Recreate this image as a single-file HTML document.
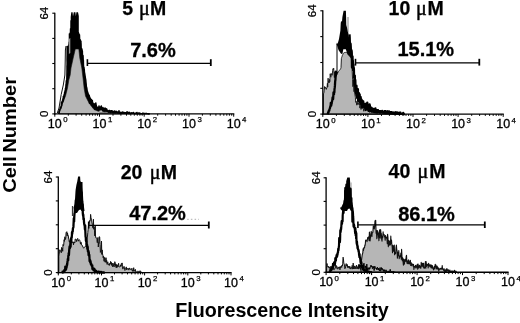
<!DOCTYPE html>
<html><head><meta charset="utf-8"><title>Flow cytometry histograms</title>
<style>html,body{margin:0;padding:0;background:#fff;width:520px;height:323px;overflow:hidden}svg{display:block}</style>
</head><body>
<svg width="520" height="323" viewBox="0 0 520 323">
<style>
text{font-family:"Liberation Sans",Arial,sans-serif;fill:#000}
.tl{font-size:12.5px;stroke:#000;stroke-width:0.3}
.yl{font-size:11.5px;stroke:#000;stroke-width:0.25}
.sup{font-size:7.8px;stroke:#000;stroke-width:0.25}
.bt{font-size:19.5px;font-weight:bold;stroke:#000;stroke-width:0.25}
.mu{font-size:20px;font-family:"Liberation Serif",serif;stroke:#000;stroke-width:0.45}
.pc{font-size:20px;font-weight:bold;stroke:#000;stroke-width:0.3}
.ax{font-size:20px;font-weight:bold}
</style>
<rect width="520" height="323" fill="#fff"/>
<polygon points="58.5,113.9 61.0,107.0 63.0,100.0 64.5,94.0 66.3,82.0 67.2,72.0 66.4,60.0 66.4,46.0 68.7,45.6 68.7,33.5 70.7,33.0 70.7,17.0 71.3,12.3 72.6,12.3 73.0,16.2 73.8,12.3 75.4,12.3 75.9,16.2 76.4,12.3 78.0,12.3 78.8,16.0 78.8,38.0 81.6,41.0 81.6,50.0 82.6,52.0 83.5,62.0 85.0,72.0 86.5,80.0 87.2,88.7 89.0,95.0 91.5,100.0 94.0,104.0 97.0,107.0 100.0,110.0 96.0,113.9" fill="#000"/>
<polygon points="59.5,113.9 59.5,111.0 61.5,106.0 63.5,101.0 65.5,96.0 67.5,88.0 68.8,80.0 70.2,75.0 71.0,68.0 73.2,58.0 75.3,49.0 78.8,49.0 79.8,58.0 81.8,68.0 83.0,78.0 84.2,88.7 85.5,96.0 88.0,101.0 90.5,105.0 94.0,109.5 100.0,112.0 130.0,113.0 130.0,113.9" fill="#b6b6b6" stroke="#111" stroke-width="0.6" stroke-linejoin="round"/>
<polyline points="57.3,113.0 59.0,108.0 61.2,94.5 63.3,85.0 64.9,75.0 65.2,62.0 65.4,50.0 66.0,46.0" fill="none" stroke="#111" stroke-width="1.0" stroke-linejoin="round"/>
<polyline points="58.5,113.9 58.7,113.5 58.9,113.1 59.0,111.3 59.2,112.2 59.4,111.4 59.6,110.1 59.7,110.6 59.9,109.3 60.1,108.9 60.3,108.5 60.4,107.2 60.6,108.6 60.8,107.3 61.0,107.8 61.1,107.0 61.3,106.6 61.5,102.4 61.7,105.8 61.8,102.5 62.0,102.1 62.2,102.9 62.4,102.0 62.5,101.1 62.7,99.9 62.9,101.8 63.1,98.2 63.3,100.5 63.4,96.5 63.6,96.4 63.8,97.9 64.0,95.9 64.1,94.9 64.3,94.7 64.5,94.1 64.7,92.0 64.8,92.9 65.0,93.1 65.2,90.3 65.4,91.5 65.5,88.3 65.7,88.1 65.9,89.7 66.1,84.0 66.2,85.6 66.4,80.7 66.6,80.9 66.8,80.5 66.9,80.3 67.1,66.4 67.3,64.8 67.5,62.1 67.7,56.1 67.8,55.5 68.0,51.0 68.2,51.4 68.4,50.5 68.5,47.8 68.7,46.2 68.9,46.5 69.1,44.4 69.2,44.6 69.4,42.2 69.6,43.2 69.8,40.2 69.9,38.4 70.1,44.9 70.3,32.7 70.5,38.0 70.6,28.7 70.8,42.1 71.0,43.0 71.2,20.7 71.3,30.7 71.5,34.3 71.7,32.5 71.9,40.9 72.1,38.3 72.2,37.4 72.4,33.3 72.6,20.6 72.8,31.5 72.9,34.5 73.1,21.0 73.3,31.9 73.5,28.6 73.6,29.2 73.8,25.2 74.0,21.9 74.2,31.3 74.3,42.3 74.5,25.7 74.7,31.2 74.9,28.0 75.0,26.3 75.2,33.4 75.4,24.7 75.6,36.4 75.7,20.7 75.9,36.4 76.1,34.8 76.3,21.6 76.5,35.8 76.6,34.4 76.8,29.8 77.0,35.4 77.2,30.8 77.3,35.6 77.5,39.7 77.7,33.1 77.9,35.9 78.0,38.6 78.2,35.8 78.4,32.8 78.6,34.0 78.7,44.5 78.9,34.0 79.1,37.4 79.3,38.5 79.4,34.9 79.6,40.6 79.8,39.4 80.0,39.9 80.1,41.7 80.3,40.3 80.5,44.1 80.7,43.9 80.9,47.4 81.0,48.6 81.2,49.2 81.4,50.3 81.6,50.4 81.7,50.8 81.9,49.1 82.1,56.1 82.3,50.9 82.4,56.9 82.6,54.9 82.8,55.5 83.0,55.6 83.1,60.1 83.3,60.2 83.5,69.1 83.7,67.4 83.8,67.6 84.0,71.8 84.2,69.3 84.4,72.8 84.5,77.0 84.7,76.4 84.9,78.0 85.1,79.5 85.3,83.5 85.4,82.9 85.6,84.7 85.8,84.5 86.0,87.8 86.1,87.1 86.3,86.1 86.5,91.6 86.7,87.8 86.8,90.8 87.0,92.6 87.2,91.3 87.4,93.6 87.5,91.7 87.7,95.0 87.9,93.9 88.1,97.4 88.2,96.3 88.4,94.4 88.6,98.9 88.8,98.1 88.9,96.2 89.1,95.3 89.3,96.6 89.5,103.2 89.7,97.0 89.8,98.4 90.0,101.7 90.2,100.1 90.4,102.8 90.5,98.6 90.7,100.7 90.9,102.1 91.1,100.3 91.2,103.1 91.4,99.9 91.6,104.9 91.8,103.0 91.9,103.8 92.1,104.7 92.3,100.6 92.5,105.0 92.6,102.3 92.8,106.0 93.0,106.1 93.2,106.9 93.3,104.9 93.5,104.2 93.7,107.0 93.9,105.7 94.1,107.1 94.2,103.8 94.4,104.5 94.6,107.9 94.8,105.9 94.9,109.3 95.1,106.0 95.3,104.1 95.5,106.8 95.6,104.9 95.8,103.0 96.0,107.0 96.2,105.0 96.3,106.4 96.5,106.5 96.7,107.2 96.9,107.9 97.0,107.3 97.2,108.6 97.4,108.0 97.6,108.7 97.7,107.5 97.9,107.5 98.1,108.2 98.3,107.6 98.5,107.7 98.6,107.7 98.8,109.0 99.0,106.0 99.2,109.1 99.3,106.7 99.5,107.4 99.7,109.9 99.9,109.3 100.0,110.0 100.2,108.8 100.4,107.0 100.6,109.5 100.7,108.3 100.9,107.8 101.1,107.2 101.3,106.1 101.4,109.6 101.6,109.7 101.8,108.5 102.0,109.7 102.1,108.6 102.3,109.8 102.5,110.4 102.7,110.4 102.9,107.6 103.0,109.4 103.2,111.1 103.4,108.3 103.6,110.6 103.7,110.1 103.9,109.0 104.1,110.1 104.3,108.5 104.4,110.2 104.6,108.6 104.8,111.4 105.0,111.4 105.1,108.1 105.3,110.4 105.5,109.9 105.7,109.9 105.8,111.0 106.0,110.5 106.2,108.9 106.4,110.0 106.5,111.1 106.7,109.0 106.9,110.7 107.1,110.7 107.3,110.2 107.4,110.2 107.6,111.3 107.8,111.4 108.0,110.9 108.1,110.9 108.3,112.0 108.5,111.0 108.7,112.1 108.8,111.0 109.0,110.5 109.2,110.5 109.4,111.1 109.5,111.7 109.7,110.6 109.9,110.7 110.1,112.3 110.2,111.8 110.4,111.8 110.6,112.4 110.8,111.3 110.9,112.4 111.1,110.8 111.3,111.9 111.5,110.8 111.7,111.9 111.8,111.9 112.0,111.4 112.2,110.9 112.4,111.4 112.5,112.5 112.7,112.5 112.9,111.5 113.1,112.0 113.2,112.0 113.4,111.5 113.6,112.1 113.8,112.6 113.9,112.1 114.1,112.6 114.3,112.1 114.5,111.6 114.6,111.1 114.8,112.2 115.0,112.7 115.2,112.2 115.3,112.7 115.5,112.8 115.7,112.2 115.9,112.2 116.1,111.2 116.2,111.7 116.4,111.8 116.6,111.8 116.8,112.3 116.9,111.8 117.1,112.9 117.3,112.4 117.5,112.4 117.6,112.9 117.8,112.9 118.0,112.4 118.2,112.4 118.3,111.9 118.5,113.0 118.7,113.0 118.9,113.0 119.0,110.9 119.2,112.5 119.4,113.1 119.6,112.0 119.7,112.0 119.9,113.1 120.1,112.6 120.3,113.1 120.5,113.1 120.6,113.1 120.8,112.6 121.0,113.1 121.2,112.6 121.3,113.1 121.5,113.1 121.7,113.2 121.9,113.2 122.0,112.6 122.2,113.2 122.4,113.2 122.6,112.1 122.7,112.7 122.9,113.2 123.1,112.2 123.3,113.2 123.4,113.2 123.6,113.2 123.8,113.2 124.0,112.7 124.1,113.2 124.3,113.2 124.5,112.7 124.7,113.2 124.9,112.7 125.0,112.7 125.2,113.3 125.4,113.3 125.6,113.3 125.7,112.8 125.9,113.3 126.1,112.8 126.3,113.3 126.4,113.3 126.6,113.3 126.8,112.8 127.0,111.8 127.1,112.3 127.3,113.3 127.5,113.3 127.7,113.3 127.8,113.3 128.0,112.3 128.2,113.3 128.4,113.4 128.5,113.4 128.7,113.4 128.9,112.9 129.1,113.4 129.3,113.4 129.4,112.9 129.6,112.4 129.8,113.4 130.0,113.4 130.1,113.4 130.3,113.4 130.5,113.4 130.7,113.4 130.8,113.4 131.0,113.4 131.2,113.4 131.4,112.9 131.5,112.9 131.7,113.5 131.9,113.0 132.1,113.5 132.2,113.0 132.4,113.5 132.6,113.0 132.8,113.0 132.9,113.0 133.1,113.0 133.3,113.5 133.5,112.5 133.7,113.5 133.8,113.5 134.0,113.5 134.2,113.5 134.4,113.5 134.5,113.5 134.7,113.5 134.9,113.6 135.1,113.6 135.2,113.6 135.4,113.6 135.6,113.6 135.8,113.6 135.9,113.1 136.1,113.6 136.3,113.1 136.5,113.6 136.6,113.6 136.8,113.6 137.0,112.6 137.2,113.6 137.3,113.6 137.5,113.6 137.7,113.6 137.9,113.6 138.1,113.6 138.2,113.6 138.4,113.6 138.6,113.1 138.8,113.6 138.9,113.6 139.1,113.7 139.3,113.7 139.5,113.2 139.6,113.7 139.8,113.7 140.0,113.2 140.2,113.7 140.3,113.7 140.5,113.7 140.7,113.7 140.9,113.7 141.0,113.7 141.2,113.7 141.4,113.7 141.6,113.7 141.7,113.7 141.9,113.7 142.1,113.7 142.3,113.7 142.5,113.7 142.6,113.2 142.8,113.7 143.0,113.3 143.2,113.7 143.3,113.7 143.5,113.8 143.7,113.8 143.9,113.8 144.0,113.3 144.2,113.8 144.4,113.8 144.6,113.8 144.7,113.8 144.9,113.8 145.1,113.8 145.3,113.8 145.4,113.8 145.6,113.8 145.8,113.8 146.0,113.3 146.1,113.8 146.3,113.8 146.5,113.8 146.7,113.8 146.9,113.8 147.0,113.8 147.2,113.8 147.4,113.8 147.6,113.8 147.7,113.8 147.9,113.9 148.1,113.9 148.3,113.9 148.4,113.9 148.6,113.9 148.8,113.9 149.0,113.9 149.1,113.9 149.3,113.9 149.5,113.9 149.7,113.9 149.8,113.9" fill="none" stroke="#000" stroke-width="1.6" stroke-linejoin="round"/>
<polygon points="68.9,39.0 70.3,38.0 70.3,53.0 68.9,54.0" fill="#999"/>
<polygon points="323.5,114.1 323.5,93.8 323.9,92.8 324.2,90.9 324.6,86.5 324.9,88.5 325.3,87.2 325.6,87.8 326.0,87.9 326.3,89.4 326.7,88.0 327.0,88.1 327.4,83.3 327.7,87.0 328.1,78.2 328.4,82.4 328.8,81.2 329.1,83.0 329.5,79.4 329.8,81.7 330.2,73.8 330.5,76.2 330.9,77.2 331.2,73.4 331.6,74.8 331.9,75.3 332.3,75.1 332.6,70.8 333.0,68.7 333.3,69.5 333.7,68.2 334.0,73.1 334.4,77.6 334.7,71.7 335.1,76.3 335.4,77.1 335.8,72.6 336.1,75.7 336.5,75.1 336.8,75.0 337.2,71.9 337.5,73.2 337.9,72.6 338.2,72.0 338.6,71.4 338.9,71.0 339.3,70.5 339.6,70.1 340.0,69.7 340.3,69.2 340.7,68.6 341.0,67.6 341.4,58.4 341.7,57.4 342.1,56.3 342.4,55.3 342.8,54.5 343.1,53.8 343.5,53.1 343.8,52.8 344.2,52.7 344.5,52.5 344.9,52.5 345.2,52.5 345.6,52.4 345.9,52.4 346.3,52.4 346.6,52.4 347.0,52.9 347.3,53.3 347.7,53.8 348.0,54.3 348.4,54.7 348.7,55.2 349.1,55.7 349.4,56.1 349.8,56.6 350.1,57.0 350.5,57.5 350.8,58.0 351.2,58.1 351.5,57.8 351.9,59.0 352.2,71.5 352.6,79.3 352.9,86.7 353.3,79.7 353.6,84.6 354.0,91.7 354.3,84.2 354.7,93.4 355.0,95.0 355.4,97.5 355.7,102.3 356.1,101.4 356.4,102.5 356.8,105.2 357.1,101.5 357.5,104.2 357.8,104.5 358.2,103.1 358.5,102.6 358.9,104.4 359.2,103.8 359.6,105.5 359.9,108.1 360.3,104.3 360.6,105.3 361.0,109.5 361.3,105.6 361.7,105.7 362.0,106.6 362.4,106.0 362.7,107.7 363.1,106.2 363.4,108.8 363.8,111.3 364.1,109.8 364.5,108.4 364.8,109.3 365.2,109.4 365.5,108.6 365.9,110.3 366.2,109.6 366.6,108.0 366.9,109.7 367.3,110.5 367.6,109.8 368.0,109.0 368.3,106.6 368.7,111.5 369.0,107.5 369.4,111.6 369.7,112.5 370.1,110.9 370.4,111.8 370.8,110.2 371.1,109.4 371.5,112.7 371.8,112.0 372.2,111.2 372.5,112.8 372.9,110.4 373.2,110.4 373.6,110.5 373.9,111.3 374.3,111.3 374.6,112.1 375.0,110.5 375.3,112.2 375.7,112.2 376.0,111.4 376.4,112.2 376.7,113.0 377.1,113.1 377.4,112.3 377.8,113.1 378.1,109.1 378.5,113.1 378.8,112.3 379.2,113.2 379.5,112.4 379.9,112.4 380.2,113.2 380.6,113.2 380.9,112.4 381.3,111.6 381.6,110.9 382.0,112.5 382.3,113.3 382.7,112.5 383.0,113.4 383.4,113.4 383.7,113.4 384.1,113.4 384.4,113.4 384.8,111.8 385.1,112.6 385.5,112.7 385.8,113.5 386.2,113.5 386.5,113.5 386.9,113.5 387.2,112.7 387.6,111.1 387.9,112.7 388.3,112.7 388.6,112.8 389.0,113.6 389.3,112.8 389.7,112.8 390.0,113.6 390.4,112.8 390.7,113.6 391.1,113.6 391.4,113.6 391.8,112.9 392.1,113.7 392.5,113.7 392.8,113.7 393.2,113.7 393.5,113.7 393.9,113.7 394.2,112.9 394.6,113.7 394.9,113.8 395.3,113.8 395.6,113.0 396.0,113.0 396.3,113.8 396.7,113.0 397.0,113.8 397.4,113.8 397.7,113.8 397.7,114.1" fill="#b6b6b6" stroke="#111" stroke-width="0.9" stroke-linejoin="round"/>
<polygon points="336.5,44.0 337.0,42.4 337.6,44.0 339.0,39.0 340.4,30.5 340.7,23.7 341.0,21.2 342.0,21.5 342.4,16.9 343.6,10.8 345.9,10.8 346.1,16.7 346.3,25.0 348.3,32.8 349.2,39.0 351.0,43.9 352.0,49.2 352.8,54.3 351.5,58.0 347.5,54.3 345.8,49.2 343.3,49.2 342.5,53.5 341.2,54.0 338.5,50.0 337.5,46.5" fill="#000"/>
<polyline points="348.0,17.0 348.0,32.0" fill="none" stroke="#777" stroke-width="0.9" stroke-linejoin="round"/>
<polyline points="337.0,44.0 337.0,73.5 336.2,75.5" fill="none" stroke="#000" stroke-width="1.0" stroke-linejoin="round"/>
<polyline points="327.5,114.1 327.7,113.8 327.9,113.2 328.0,113.3 328.2,112.2 328.4,112.3 328.6,112.1 328.7,111.0 328.9,111.1 329.1,110.3 329.3,110.7 329.4,109.4 329.6,109.0 329.8,108.5 330.0,108.0 330.1,107.2 330.3,106.7 330.5,105.8 330.7,105.4 330.8,102.9 331.0,104.5 331.2,105.7 331.4,103.7 331.5,104.1 331.7,103.3 331.9,101.3 332.1,101.3 332.3,100.1 332.4,99.3 332.6,97.3 332.8,97.3 333.0,97.7 333.1,99.1 333.3,96.0 333.5,92.4 333.7,92.9 333.8,94.2 334.0,94.3 334.2,91.6 334.4,92.1 334.5,89.2 334.7,87.9 334.9,85.9 335.1,82.6 335.2,81.0 335.4,80.0 335.6,76.8 335.8,75.7 335.9,71.7 336.1,74.6" fill="none" stroke="#000" stroke-width="2.3" stroke-linejoin="round"/>
<polyline points="349.5,34.4 349.7,37.5 349.9,44.1 350.0,44.8 350.2,43.2 350.4,50.3 350.6,43.8 350.7,51.8 350.9,49.4 351.1,56.4 351.3,51.4 351.4,50.1 351.6,51.5 351.8,55.6 352.0,67.5 352.1,61.4 352.3,60.0 352.5,56.3 352.7,63.0 352.8,60.2 353.0,64.1 353.2,70.5 353.4,64.3 353.5,68.4 353.7,67.5 353.9,69.0 354.1,78.0 354.3,75.4 354.4,78.7 354.6,84.6 354.8,75.6 355.0,86.1 355.1,79.5 355.3,80.1 355.5,86.3 355.7,87.8 355.8,92.3 356.0,93.8 356.2,89.2 356.4,95.2 356.5,85.7 356.7,90.7 356.9,94.8 357.1,97.9 357.2,92.3 357.4,96.4 357.6,97.5 357.8,90.9 357.9,89.2 358.1,101.0 358.3,95.4 358.5,100.5 358.7,95.7 358.8,93.0 359.0,98.9 359.2,96.1 359.4,97.2 359.5,96.3 359.7,94.5 359.9,102.4 360.1,99.6 360.2,103.6 360.4,98.9 360.6,97.0 360.8,98.1 360.9,103.1 361.1,101.3 361.3,104.3 361.5,99.6 361.6,99.6 361.8,103.6 362.0,104.6 362.2,107.6 362.3,102.9 362.5,103.9 362.7,101.1 362.9,101.2 363.1,101.3 363.2,101.4 363.4,105.3 363.6,106.4 363.8,104.5 363.9,105.6 364.1,103.7 364.3,104.7 364.5,107.7 364.6,106.8 364.8,104.0 365.0,106.0 365.2,107.0 365.3,105.1 365.5,108.0 365.7,110.0 365.9,105.2 366.0,108.2 366.2,109.2 366.4,103.5 366.6,106.4 366.7,104.5 366.9,106.5 367.1,108.5 367.3,102.7 367.5,106.7 367.6,107.7 367.8,104.8 368.0,107.8 368.2,108.8 368.3,109.8 368.5,110.8 368.7,108.9 368.9,109.9 369.0,109.9 369.2,109.9 369.4,108.1 369.6,104.4 369.7,108.2 369.9,105.5 370.1,109.2 370.3,109.2 370.4,109.2 370.6,111.1 370.8,109.3 371.0,111.1 371.1,107.6 371.3,107.7 371.5,109.5 371.7,107.8 371.9,109.6 372.0,109.6 372.2,108.8 372.4,109.6 372.6,109.7 372.7,110.5 372.9,109.7 373.1,110.5 373.3,110.5 373.4,111.4 373.6,108.9 373.8,109.8 374.0,112.2 374.1,110.6 374.3,109.8 374.5,112.2 374.7,111.4 374.8,110.7 375.0,110.7 375.2,112.2 375.4,108.4 375.5,111.5 375.7,110.0 375.9,112.3 376.1,110.8 376.3,110.0 376.4,110.1 376.6,112.3 376.8,110.8 377.0,110.1 377.1,110.9 377.3,112.3 377.5,110.9 377.7,112.3 377.8,110.2 378.0,110.9 378.2,111.7 378.4,111.0 378.5,111.0 378.7,111.7 378.9,111.7 379.1,111.1 379.2,111.1 379.4,111.1 379.6,111.8 379.8,111.8 379.9,112.5 380.1,111.2 380.3,111.8 380.5,111.9 380.7,112.5 380.8,111.9 381.0,111.3 381.2,111.9 381.4,112.0 381.5,111.3 381.7,112.0 381.9,111.4 382.1,111.4 382.2,110.8 382.4,111.4 382.6,112.7 382.8,111.5 382.9,111.5 383.1,112.2 383.3,112.2 383.5,112.2 383.6,112.2 383.8,112.2 384.0,111.6 384.2,112.3 384.3,112.9 384.5,111.7 384.7,111.1 384.9,112.4 385.1,111.7 385.2,111.1 385.4,113.0 385.6,113.0 385.8,111.2 385.9,113.1 386.1,112.4 386.3,111.8 386.5,113.1 386.6,112.5 386.8,112.5 387.0,112.5 387.2,111.9 387.3,113.1 387.5,113.1 387.7,111.9 387.9,111.3 388.0,113.2 388.2,113.2 388.4,112.6 388.6,112.0 388.7,113.2 388.9,113.2 389.1,111.4 389.3,112.6 389.5,112.6 389.6,113.3 389.8,112.7 390.0,113.3 390.2,112.1 390.3,113.3 390.5,112.1 390.7,113.3 390.9,112.1 391.0,112.7 391.2,112.8 391.4,112.2 391.6,112.8 391.7,113.4 391.9,113.4 392.1,113.4 392.3,112.8 392.4,112.8 392.6,112.8 392.8,113.5 393.0,112.3 393.1,112.9 393.3,113.5 393.5,113.5 393.7,113.5 393.9,113.5 394.0,112.9 394.2,113.5 394.4,113.6 394.6,113.6 394.7,113.6 394.9,113.6 395.1,112.4 395.3,113.6 395.4,113.6 395.6,112.5 395.8,113.6 396.0,113.6 396.1,113.6 396.3,113.7 396.5,113.7 396.7,113.1 396.8,112.5 397.0,113.7 397.2,113.7 397.4,113.7 397.5,113.7 397.7,113.7 397.9,112.6 398.1,113.7 398.3,113.8 398.4,113.2 398.6,113.8 398.8,113.8 399.0,113.8 399.1,113.8 399.3,113.8 399.5,113.8 399.7,113.3 399.8,112.7 400.0,113.8 400.2,113.8 400.4,112.7 400.5,113.9 400.7,113.3 400.9,113.3 401.1,113.9 401.2,113.9 401.4,113.9 401.6,113.9 401.8,113.9 401.9,113.9 402.1,113.9 402.3,114.0 402.5,114.0 402.7,114.0 402.8,114.0 403.0,114.0 403.2,112.9 403.4,114.0 403.5,114.0 403.7,113.5 403.9,114.0 404.1,114.1 404.2,114.1 404.4,114.1 404.6,114.1 404.8,114.1 404.9,114.1" fill="none" stroke="#000" stroke-width="2.3" stroke-linejoin="round"/>
<polygon points="58.8,272.6 58.8,256.2 59.1,254.2 59.5,251.2 59.9,249.7 60.2,251.2 60.6,251.0 60.9,251.1 61.3,252.8 61.6,247.4 62.0,248.7 62.3,248.2 62.7,251.3 63.0,244.5 63.4,245.8 63.7,245.2 64.1,239.7 64.4,241.4 64.8,236.8 65.1,237.2 65.4,239.5 65.8,237.7 66.1,232.3 66.5,232.4 66.8,231.7 67.2,235.9 67.5,232.9 67.9,235.7 68.2,235.4 68.6,238.0 68.9,239.7 69.3,241.9 69.6,240.7 70.0,244.0 70.3,246.3 70.7,244.8 71.0,240.0 71.4,242.8 71.7,241.5 72.1,242.2 72.4,241.7 72.8,243.0 73.1,242.4 73.5,244.9 73.8,241.8 74.2,243.1 74.5,242.1 74.9,242.6 75.2,239.0 75.6,239.2 75.9,239.3 76.3,239.5 76.6,241.6 77.0,240.1 77.3,239.0 77.7,238.4 78.0,239.4 78.4,241.2 78.7,240.0 79.1,239.7 79.4,239.7 79.8,240.4 80.1,241.4 80.5,244.1 80.8,242.4 81.2,242.3 81.5,244.9 81.9,245.1 82.2,245.2 82.6,245.9 82.9,247.2 83.3,247.5 83.6,248.2 84.0,247.5 84.3,247.4 84.7,246.9 85.0,246.8 85.4,246.5 85.7,246.1 86.1,245.3 86.4,243.0 86.8,240.7 87.1,238.3 87.5,236.0 87.8,232.5 88.2,229.0 88.5,225.8 88.9,224.4 89.2,223.2 89.6,220.6 89.9,221.2 90.3,219.9 90.6,214.4 91.0,217.6 91.3,219.1 91.7,220.9 92.0,223.0 92.4,224.4 92.7,227.7 93.1,228.2 93.4,219.2 93.8,229.2 94.1,227.0 94.5,230.8 94.8,235.9 95.2,225.3 95.5,236.0 95.9,237.9 96.2,237.7 96.6,238.2 96.9,239.4 97.3,242.7 97.6,239.0 98.0,237.4 98.3,247.0 98.7,242.6 99.0,243.2 99.4,236.6 99.7,237.2 100.1,244.7 100.4,252.4 100.8,250.8 101.1,249.9 101.5,241.1 101.8,254.4 102.2,249.9 102.5,254.0 102.9,255.2 103.2,257.8 103.6,256.2 103.9,261.0 104.3,261.5 104.6,257.4 105.0,258.4 105.3,262.3 105.7,260.4 106.0,257.7 106.4,262.4 106.7,260.4 107.1,264.4 107.4,263.1 107.8,261.8 108.1,264.1 108.5,265.0 108.8,265.1 109.2,263.8 109.5,265.4 109.9,263.3 110.2,264.2 110.6,261.4 110.9,263.7 111.3,262.3 111.6,265.3 112.0,263.1 112.3,266.1 112.7,266.8 113.0,263.1 113.4,266.1 113.7,264.6 114.1,266.9 114.4,265.4 114.8,261.7 115.1,262.4 115.5,266.2 115.8,263.9 116.2,267.7 116.5,264.7 116.9,267.7 117.2,264.7 117.6,266.2 117.9,267.0 118.3,265.5 118.6,263.3 119.0,266.3 119.3,267.0 119.7,267.0 120.0,267.0 120.4,266.3 120.7,264.8 121.1,266.3 121.4,263.5 121.8,264.3 122.1,262.9 122.5,266.8 122.8,269.1 123.2,268.5 123.5,267.1 123.9,266.4 124.2,266.5 124.6,269.6 124.9,270.5 125.3,269.0 125.6,268.3 126.0,267.6 126.3,266.9 126.7,269.9 127.0,268.4 127.4,268.5 127.7,269.2 128.1,268.5 128.4,268.5 128.8,270.1 129.1,269.4 129.5,267.9 129.8,268.7 130.2,268.7 130.5,269.5 130.9,269.5 131.2,269.5 131.6,269.6 131.9,268.2 132.3,271.2 132.6,271.2 133.0,269.8 133.3,271.4 133.7,267.7 134.0,270.7 134.4,270.0 134.7,270.1 135.1,271.6 135.4,269.4 135.8,271.7 136.1,271.8 136.5,271.8 136.8,271.9 137.2,271.9 137.5,271.2 137.9,271.2 138.2,271.3 138.6,271.3 138.9,272.1 139.3,272.1 139.6,271.4 140.0,270.7 140.3,272.2 140.7,271.5 141.0,271.6 141.4,272.3 141.7,272.4 141.7,272.6" fill="#b6b6b6" stroke="#111" stroke-width="1.0" stroke-linejoin="round"/>
<polygon points="73.6,207.5 74.6,204.0 75.1,198.0 75.6,190.0 76.4,185.0 77.3,181.3 78.1,176.6 80.1,176.6 80.4,181.3 81.2,182.0 82.5,182.0 82.6,187.5 83.0,195.2 83.4,203.0 84.0,207.0 84.5,211.0 81.5,211.0 80.5,209.5 79.0,210.0 78.3,211.0 77.0,213.0 74.5,213.0" fill="#000"/>
<polyline points="72.4,206.0 72.4,216.0" fill="none" stroke="#222" stroke-width="1.0" stroke-linejoin="round"/>
<polyline points="62.0,272.6 62.2,272.6 62.4,272.1 62.5,271.6 62.7,272.4 62.9,272.4 63.1,272.3 63.2,271.8 63.4,272.2 63.6,272.1 63.8,271.5 63.9,271.8 64.1,271.7 64.3,270.2 64.5,271.4 64.6,270.8 64.8,270.6 65.0,269.1 65.2,270.3 65.3,266.6 65.5,268.7 65.7,269.0 65.9,268.4 66.0,269.5 66.2,268.0 66.4,267.8 66.6,267.2 66.8,265.7 66.9,264.7 67.1,265.0 67.3,263.5 67.5,261.5 67.6,260.9 67.8,259.0 68.0,259.1 68.2,260.1 68.3,256.2 68.5,254.9 68.7,253.2 68.9,255.1 69.0,253.8 69.2,250.3 69.4,248.2 69.6,246.5 69.7,247.5 69.9,248.2 70.1,247.5 70.3,245.5 70.4,244.3 70.6,246.8 70.8,239.4 71.0,240.5 71.2,238.0 71.3,240.9 71.5,237.1 71.7,237.7 71.9,235.2 72.0,232.2 72.2,233.8 72.4,232.1 72.6,231.0 72.7,231.6 72.9,228.6 73.1,227.9 73.3,227.6 73.4,226.9 73.6,223.0 73.8,218.3 74.0,218.6 74.1,221.6 74.3,216.4 74.5,213.4 74.7,213.1 74.8,210.8 75.0,206.9 75.2,206.6 75.4,210.2 75.6,208.5 75.7,207.2 75.9,200.1 76.1,203.0 76.3,207.2 76.4,201.2 76.6,199.4 76.8,202.4 77.0,206.0 77.1,191.0 77.3,202.0 77.5,199.4 77.7,196.7 77.8,204.8 78.0,193.8 78.2,191.2 78.4,195.8 78.5,197.3 78.7,184.2 78.9,196.1 79.1,195.4 79.2,194.2 79.4,196.5 79.6,192.3 79.8,201.4 80.0,190.7 80.1,198.6 80.3,194.5 80.5,194.6 80.7,191.2 80.8,195.5 81.0,199.2 81.2,201.7 81.4,194.1 81.5,192.4 81.7,196.8 81.9,201.1 82.1,201.3 82.2,209.3 82.4,206.8 82.6,204.5 82.8,213.1 82.9,214.1 83.1,215.9 83.3,214.7 83.5,219.4 83.6,218.3 83.8,218.4 84.0,221.9 84.2,224.1 84.4,224.5 84.5,225.3 84.7,226.0 84.9,229.2 85.1,229.8 85.2,225.5 85.4,232.8 85.6,237.0 85.8,237.2 85.9,240.4 86.1,241.2 86.3,238.4 86.5,244.5 86.6,240.8 86.8,246.5 87.0,244.6 87.2,245.3 87.3,248.4 87.5,249.1 87.7,246.8 87.9,251.5 88.0,250.8 88.2,250.6 88.4,250.9 88.6,255.1 88.8,252.2 88.9,255.2 89.1,255.9 89.3,254.8 89.5,258.6 89.6,261.1 89.8,259.7 90.0,261.9 90.2,260.4 90.3,262.6 90.5,261.1 90.7,262.4 90.9,264.5 91.0,264.0 91.2,264.8 91.4,264.2 91.6,265.5 91.7,265.4 91.9,265.7 92.1,266.5 92.3,265.5 92.4,269.0 92.6,268.0 92.8,267.9 93.0,268.7 93.2,268.4 93.3,269.8 93.5,269.4 93.7,270.4 93.9,270.1 94.0,268.8 94.2,270.7 94.4,269.0 94.6,270.9 94.7,271.0 94.9,270.6 95.1,270.3 95.3,271.3 95.4,270.9 95.6,271.5 95.8,271.1 96.0,271.2 96.1,270.8 96.3,271.4 96.5,271.5 96.7,272.0 96.8,271.7 97.0,271.7 97.2,271.7 97.4,271.8 97.6,272.2 97.7,272.2 97.9,272.2 98.1,272.2 98.3,272.2 98.4,272.3 98.6,271.8 98.8,272.3 99.0,271.8 99.1,272.3 99.3,272.3 99.5,272.3 99.7,272.3 99.8,272.3 100.0,271.9 100.2,272.3 100.4,272.4 100.5,272.4 100.7,272.4 100.9,272.4 101.1,272.4 101.2,272.4 101.4,272.0 101.6,272.4 101.8,272.4 102.0,272.4 102.1,272.4 102.3,272.5 102.5,272.5 102.7,272.5 102.8,272.5 103.0,272.5 103.2,272.5 103.4,272.5 103.5,272.5 103.7,272.5 103.9,272.5 104.1,272.6 104.2,272.6 104.4,272.6 104.6,272.6 104.8,272.6 104.9,272.6" fill="none" stroke="#000" stroke-width="2.3" stroke-linejoin="round"/>
<polygon points="326.6,272.3 326.6,268.7 327.0,263.5 327.3,265.7 327.7,266.8 328.0,267.2 328.4,267.5 328.7,266.2 329.1,267.7 329.4,267.7 329.8,267.0 330.1,270.0 330.5,267.8 330.8,266.3 331.2,269.3 331.5,267.1 331.9,267.1 332.2,267.1 332.6,266.4 332.9,268.6 333.3,265.7 333.6,269.4 334.0,270.1 334.3,268.7 334.7,268.6 335.0,267.9 335.4,264.2 335.7,266.4 336.1,268.5 336.4,265.6 336.8,266.3 337.1,267.0 337.5,267.7 337.8,269.2 338.2,267.7 338.5,267.7 338.9,266.9 339.2,268.3 339.6,266.8 339.9,269.8 340.3,268.3 340.6,266.8 341.0,266.0 341.3,266.0 341.7,267.5 342.0,265.2 342.4,266.0 342.7,263.8 343.1,257.2 343.4,258.7 343.8,262.9 344.1,263.9 344.5,264.8 344.8,268.7 345.2,268.0 345.5,268.0 345.9,264.4 346.2,263.6 346.6,265.9 346.9,265.9 347.3,264.5 347.6,267.5 348.0,266.8 348.3,267.5 348.7,266.1 349.0,267.6 349.4,268.4 349.7,266.2 350.1,266.9 350.4,267.7 350.8,269.1 351.1,267.6 351.5,267.6 351.8,268.3 352.2,265.4 352.5,269.1 352.9,268.3 353.2,263.1 353.6,269.0 353.9,268.3 354.3,269.0 354.6,266.0 355.0,266.0 355.3,266.7 355.7,268.9 356.0,268.2 356.4,265.2 356.7,266.0 357.1,269.0 357.4,266.8 357.8,267.5 358.1,268.3 358.5,269.1 358.8,266.1 359.2,265.4 359.5,268.4 359.9,266.9 360.2,266.3 360.6,269.3 360.9,270.1 361.3,269.5 361.6,266.6 362.0,268.9 362.0,272.3" fill="#b6b6b6" stroke="#111" stroke-width="1.0" stroke-linejoin="round"/>
<polygon points="361.0,272.3 361.0,262.9 361.4,261.1 361.7,258.6 362.1,255.7 362.4,254.2 362.8,252.8 363.1,248.9 363.5,250.4 363.8,248.0 364.2,247.4 364.5,247.9 364.9,244.7 365.2,245.2 365.6,240.2 365.9,240.1 366.3,240.2 366.6,240.2 367.0,241.7 367.3,240.2 367.7,237.6 368.0,237.9 368.4,237.0 368.7,238.5 369.1,240.6 369.4,232.0 369.8,236.5 370.1,240.9 370.5,236.6 370.8,235.1 371.2,231.4 371.5,233.5 371.9,236.8 372.2,233.0 372.6,232.8 372.9,232.0 373.3,225.9 373.6,226.3 374.0,227.9 374.3,228.9 374.7,226.3 375.0,220.7 375.4,225.2 375.7,220.2 376.1,233.2 376.4,230.2 376.8,238.7 377.1,237.6 377.5,230.5 377.8,232.0 378.2,232.8 378.5,235.7 378.9,240.7 379.2,236.1 379.6,229.9 379.9,235.7 380.3,238.1 380.6,229.6 381.0,233.3 381.3,233.5 381.7,239.6 382.0,241.2 382.4,236.1 382.7,237.8 383.1,231.8 383.4,235.0 383.8,234.3 384.1,234.4 384.5,236.9 384.8,236.2 385.2,240.3 385.5,235.5 385.9,236.4 386.2,237.4 386.6,238.3 386.9,237.6 387.3,243.6 387.6,234.4 388.0,237.9 388.3,246.6 388.7,240.6 389.0,245.1 389.4,245.2 389.7,241.0 390.1,244.7 390.4,244.9 390.8,236.1 391.1,243.5 391.5,240.1 391.8,243.9 392.2,246.8 392.5,252.6 392.9,245.4 393.2,251.1 393.6,251.3 393.9,246.8 394.3,245.1 394.6,254.8 395.0,254.0 395.3,252.3 395.7,253.5 396.0,247.8 396.4,245.0 396.7,249.1 397.1,251.2 397.4,258.3 397.8,252.4 398.1,255.6 398.5,255.6 398.8,250.6 399.2,258.7 399.5,255.7 399.9,256.8 400.2,256.9 400.6,254.9 400.9,253.0 401.3,259.3 401.6,249.2 402.0,256.5 402.3,260.8 402.7,257.8 403.0,261.0 403.4,265.1 403.7,259.0 404.1,262.1 404.4,264.2 404.8,260.2 405.1,259.3 405.5,259.3 405.8,261.4 406.2,256.4 406.5,255.4 406.9,262.6 407.2,263.7 407.6,261.7 407.9,260.7 408.3,263.8 408.6,259.9 409.0,260.9 409.3,264.0 409.7,263.1 410.0,263.2 410.4,260.3 410.7,265.5 411.1,262.6 411.4,265.7 411.8,263.8 412.1,265.0 412.5,264.1 412.8,265.2 413.2,266.3 413.5,264.4 413.9,269.4 414.2,267.4 414.6,266.4 414.9,266.3 415.3,267.3 415.6,265.3 416.0,268.2 416.3,266.2 416.7,267.2 417.0,265.2 417.4,264.2 417.7,269.1 418.1,264.1 418.4,268.1 418.8,267.1 419.1,267.1 419.5,265.2 419.8,267.1 420.2,268.1 420.5,266.2 420.9,268.2 421.2,262.3 421.6,265.2 421.9,266.2 422.3,263.3 422.6,266.3 423.0,263.4 423.3,267.3 423.7,263.4 424.0,268.3 424.4,268.3 424.7,267.3 425.1,267.4 425.4,261.6 425.8,268.3 426.1,261.6 426.5,266.4 426.8,264.4 427.2,264.3 427.5,265.2 427.9,264.2 428.2,268.0 428.6,263.2 428.9,265.0 429.3,265.9 429.6,264.9 430.0,266.8 430.3,265.8 430.7,264.8 431.0,267.8 431.4,265.1 431.7,267.2 432.1,268.3 432.4,265.6 432.8,267.7 433.1,267.9 433.5,269.9 433.8,269.0 434.2,267.1 434.5,266.2 434.9,269.0 435.2,264.2 435.6,266.1 435.9,265.1 436.3,267.9 436.6,268.9 437.0,266.1 437.3,268.9 437.7,267.1 438.0,269.0 438.4,268.1 438.7,270.9 439.1,270.0 439.4,269.0 439.8,269.1 440.1,268.2 440.5,269.1 440.8,269.1 441.2,268.2 441.5,269.2 441.9,269.2 442.2,265.6 442.6,269.3 442.9,269.3 443.3,269.4 443.6,270.4 444.0,268.6 444.3,269.5 444.7,271.4 445.0,270.6 445.4,271.5 445.7,269.7 446.1,271.6 446.4,268.9 446.8,270.7 447.1,268.9 447.5,270.8 447.8,270.8 448.2,269.9 448.5,269.9 448.9,271.7 449.2,271.8 449.6,270.9 449.9,270.0 450.3,271.8 450.6,271.8 451.0,271.8 451.3,271.0 451.7,271.0 452.0,271.9 452.4,271.0 452.7,271.0 453.1,271.0 453.4,272.0 453.8,272.0 454.1,272.0 454.5,270.2 454.8,272.0 455.2,271.1 455.5,272.1 455.9,272.1 456.2,271.2 456.2,272.3" fill="#b6b6b6" stroke="#111" stroke-width="1.1" stroke-linejoin="round"/>
<polyline points="358.0,268.0 358.4,265.4 358.7,264.5 359.1,266.3 359.4,264.6 359.8,267.3 360.1,264.7 360.5,266.5 360.8,265.6 361.2,266.6 361.5,267.5 361.9,266.6 362.2,269.3 362.6,268.4 362.9,267.6 363.3,269.3 363.6,264.0 364.0,263.2 364.3,266.7 364.7,266.7 365.0,268.5 365.4,265.9 365.7,267.6 366.1,269.4 366.4,270.3 366.8,264.1 367.1,268.6 367.5,270.4 367.8,267.7 368.2,269.5 368.5,268.6 368.9,267.7 369.2,269.5 369.6,267.8 369.9,268.7 370.3,266.9 370.6,266.9 371.0,265.1 371.3,266.9 371.7,266.1 372.0,266.1 372.4,268.7 372.7,268.7 373.1,266.1 373.4,267.9 373.8,267.0 374.1,270.6 374.5,267.9 374.8,266.1 375.2,267.9 375.5,268.0 375.9,268.0 376.2,268.9 376.6,268.1 376.9,269.9 377.3,267.2 377.6,268.1 378.0,268.2 378.3,270.0 378.7,268.2 379.0,269.2 379.4,271.0 379.7,270.1 380.1,267.5 380.4,271.0 380.8,271.1 381.1,270.2 381.5,267.6 381.8,269.4 382.2,268.5 382.5,268.6 382.9,270.4 383.2,269.5 383.6,271.3 383.9,270.5 384.3,271.4 384.6,269.7 385.0,270.6 385.3,271.5 385.7,270.7 386.0,269.8 386.4,271.6 386.7,270.8 387.1,271.7 387.4,271.7 387.8,271.8 388.1,271.8 388.5,270.9 388.8,271.9 389.2,271.9 389.5,271.0 389.9,271.1 390.2,269.3 390.6,271.1 390.9,272.0 391.3,272.0 391.6,272.1 392.0,271.2 392.3,272.1 392.7,272.1 393.0,272.1 393.4,272.2 393.7,271.3 394.1,272.2 394.4,272.2 394.8,272.2 395.1,272.3 395.5,272.3 395.8,272.3" fill="none" stroke="#000" stroke-width="1.0" stroke-linejoin="round"/>
<polygon points="340.0,207.5 341.1,207.5 343.6,203.0 344.2,195.2 344.2,187.5 346.2,186.0 346.2,181.3 347.3,177.4 349.8,177.4 350.1,181.3 350.3,195.2 352.4,203.0 353.2,207.5 353.6,211.0 350.9,211.0 349.5,208.5 348.0,209.0 347.0,211.0 342.3,211.0 340.5,209.0" fill="#000"/>
<polyline points="351.0,182.5 351.0,201.0" fill="none" stroke="#888" stroke-width="0.9" stroke-linejoin="round"/>
<polyline points="329.0,272.3 329.2,272.2 329.4,272.0 329.5,271.9 329.7,271.7 329.9,271.1 330.1,271.4 330.2,271.3 330.4,270.3 330.6,270.6 330.8,270.0 330.9,270.7 331.1,270.1 331.3,269.8 331.5,270.0 331.6,268.5 331.8,269.5 332.0,268.0 332.2,267.7 332.3,266.6 332.5,267.2 332.7,267.0 332.9,267.2 333.0,263.8 333.2,265.4 333.4,264.7 333.6,264.9 333.8,265.5 333.9,263.0 334.1,262.3 334.3,263.8 334.5,263.1 334.6,264.1 334.8,262.5 335.0,263.5 335.2,261.9 335.3,258.0 335.5,258.2 335.7,260.1 335.9,260.7 336.0,259.1 336.2,257.0 336.4,256.7 336.6,255.0 336.7,257.2 336.9,256.7 337.1,256.6 337.3,253.9 337.4,255.2 337.6,254.3 337.8,252.0 338.0,252.8 338.2,248.8 338.3,248.8 338.5,250.5 338.7,248.2 338.9,246.3 339.0,245.7 339.2,238.1 339.4,238.0 339.6,238.4 339.7,238.7 339.9,242.1 340.1,239.3 340.3,230.7 340.4,230.1 340.6,232.1 340.8,230.6 341.0,227.8 341.1,229.4 341.3,227.0 341.5,223.3 341.7,221.1 341.8,220.8 342.0,224.0 342.2,221.5 342.4,221.1 342.6,221.2 342.7,215.5 342.9,213.4 343.1,211.6 343.3,210.3 343.4,213.2 343.6,212.4 343.8,204.5 344.0,205.6 344.1,207.3 344.3,203.7 344.5,202.3 344.7,200.9 344.8,205.1 345.0,208.4 345.2,190.9 345.4,191.8 345.5,202.3 345.7,199.7 345.9,198.3 346.1,195.1 346.2,196.7 346.4,184.7 346.6,192.7 346.8,187.2 347.0,189.9 347.1,201.1 347.3,192.8 347.5,199.8 347.7,186.8 347.8,197.4 348.0,193.9 348.2,186.2 348.4,200.9 348.5,197.3 348.7,199.7 348.9,190.8 349.1,192.0 349.2,195.6 349.4,194.0 349.6,196.4 349.8,194.8 349.9,193.7 350.1,189.1 350.3,195.1 350.5,188.7 350.6,189.1 350.8,198.6 351.0,199.8 351.2,203.3 351.4,198.2 351.5,207.6 351.7,206.9 351.9,205.8 352.1,208.9 352.2,208.0 352.4,221.7 352.6,214.3 352.8,214.8 352.9,211.7 353.1,216.2 353.3,218.5 353.5,225.6 353.6,226.6 353.8,224.0 354.0,227.2 354.2,225.2 354.3,227.2 354.5,227.9 354.7,229.0 354.9,228.8 355.0,231.7 355.2,233.3 355.4,228.2 355.6,235.1 355.8,234.4 355.9,231.6 356.1,238.5 356.3,233.1 356.5,240.6 356.6,242.7 356.8,244.0 357.0,241.7 357.2,245.6 357.3,244.7 357.5,248.1 357.7,246.2 357.9,249.0 358.0,249.6 358.2,249.4 358.4,249.5 358.6,251.9 358.7,250.7 358.9,252.2 359.1,255.1 359.3,255.7 359.4,257.1 359.6,254.2 359.8,257.0 360.0,257.5 360.2,259.0 360.3,259.1 360.5,261.9 360.7,263.0 360.9,262.7 361.0,262.3 361.2,261.8 361.4,263.1 361.6,263.9 361.7,264.7 361.9,265.5 362.1,266.3 362.3,267.1 362.4,267.5 362.6,266.1 362.8,267.3 363.0,269.0 363.1,269.6 363.3,268.4 363.5,270.3 363.7,269.9 363.8,270.5 364.0,269.7 364.2,269.4 364.4,269.5 364.6,270.5 364.7,269.7 364.9,269.8 365.1,271.2 365.3,270.9 365.4,271.0 365.6,271.5 365.8,271.6 366.0,271.3 366.1,270.9 366.3,271.3 366.5,271.8 366.7,271.8 366.8,270.9 367.0,271.4 367.2,271.9 367.4,271.9 367.5,271.9 367.7,271.9 367.9,271.9 368.1,271.9 368.2,271.9 368.4,272.0 368.6,271.5 368.8,272.0 369.0,271.6 369.1,271.6 369.3,272.0 369.5,272.1 369.7,272.1 369.8,272.1 370.0,272.1 370.2,272.1 370.4,272.1 370.5,272.2 370.7,272.2 370.9,272.2 371.1,272.2 371.2,272.2 371.4,272.2 371.6,272.3 371.8,272.3 371.9,272.3" fill="none" stroke="#000" stroke-width="2.2" stroke-linejoin="round"/>
<line x1="54.8" y1="12.7" x2="54.8" y2="114.7" stroke="#000" stroke-width="1.3"/>
<line x1="54.199999999999996" y1="113.9" x2="234.29999999999998" y2="113.9" stroke="#000" stroke-width="1.4"/>
<line x1="52.3" y1="13.2" x2="54.8" y2="13.2" stroke="#000" stroke-width="1.1"/>
<line x1="52.3" y1="38.4" x2="54.8" y2="38.4" stroke="#000" stroke-width="1.1"/>
<line x1="52.3" y1="63.5" x2="54.8" y2="63.5" stroke="#000" stroke-width="1.1"/>
<line x1="52.3" y1="88.7" x2="54.8" y2="88.7" stroke="#000" stroke-width="1.1"/>
<line x1="52.3" y1="113.9" x2="54.8" y2="113.9" stroke="#000" stroke-width="1.1"/>
<line x1="54.8" y1="113.9" x2="54.8" y2="116.7" stroke="#000" stroke-width="1"/>
<line x1="68.3" y1="113.9" x2="68.3" y2="115.7" stroke="#000" stroke-width="1"/>
<line x1="76.1" y1="113.9" x2="76.1" y2="115.7" stroke="#000" stroke-width="1"/>
<line x1="81.7" y1="113.9" x2="81.7" y2="115.7" stroke="#000" stroke-width="1"/>
<line x1="86.1" y1="113.9" x2="86.1" y2="115.7" stroke="#000" stroke-width="1"/>
<line x1="89.6" y1="113.9" x2="89.6" y2="115.7" stroke="#000" stroke-width="1"/>
<line x1="92.6" y1="113.9" x2="92.6" y2="115.7" stroke="#000" stroke-width="1"/>
<line x1="95.2" y1="113.9" x2="95.2" y2="115.7" stroke="#000" stroke-width="1"/>
<line x1="97.5" y1="113.9" x2="97.5" y2="115.7" stroke="#000" stroke-width="1"/>
<line x1="99.5" y1="113.9" x2="99.5" y2="116.7" stroke="#000" stroke-width="1"/>
<line x1="113.0" y1="113.9" x2="113.0" y2="115.7" stroke="#000" stroke-width="1"/>
<line x1="120.9" y1="113.9" x2="120.9" y2="115.7" stroke="#000" stroke-width="1"/>
<line x1="126.5" y1="113.9" x2="126.5" y2="115.7" stroke="#000" stroke-width="1"/>
<line x1="130.8" y1="113.9" x2="130.8" y2="115.7" stroke="#000" stroke-width="1"/>
<line x1="134.3" y1="113.9" x2="134.3" y2="115.7" stroke="#000" stroke-width="1"/>
<line x1="137.3" y1="113.9" x2="137.3" y2="115.7" stroke="#000" stroke-width="1"/>
<line x1="139.9" y1="113.9" x2="139.9" y2="115.7" stroke="#000" stroke-width="1"/>
<line x1="142.2" y1="113.9" x2="142.2" y2="115.7" stroke="#000" stroke-width="1"/>
<line x1="144.2" y1="113.9" x2="144.2" y2="116.7" stroke="#000" stroke-width="1"/>
<line x1="157.7" y1="113.9" x2="157.7" y2="115.7" stroke="#000" stroke-width="1"/>
<line x1="165.6" y1="113.9" x2="165.6" y2="115.7" stroke="#000" stroke-width="1"/>
<line x1="171.2" y1="113.9" x2="171.2" y2="115.7" stroke="#000" stroke-width="1"/>
<line x1="175.5" y1="113.9" x2="175.5" y2="115.7" stroke="#000" stroke-width="1"/>
<line x1="179.1" y1="113.9" x2="179.1" y2="115.7" stroke="#000" stroke-width="1"/>
<line x1="182.0" y1="113.9" x2="182.0" y2="115.7" stroke="#000" stroke-width="1"/>
<line x1="184.6" y1="113.9" x2="184.6" y2="115.7" stroke="#000" stroke-width="1"/>
<line x1="186.9" y1="113.9" x2="186.9" y2="115.7" stroke="#000" stroke-width="1"/>
<line x1="189.0" y1="113.9" x2="189.0" y2="116.7" stroke="#000" stroke-width="1"/>
<line x1="202.4" y1="113.9" x2="202.4" y2="115.7" stroke="#000" stroke-width="1"/>
<line x1="210.3" y1="113.9" x2="210.3" y2="115.7" stroke="#000" stroke-width="1"/>
<line x1="215.9" y1="113.9" x2="215.9" y2="115.7" stroke="#000" stroke-width="1"/>
<line x1="220.2" y1="113.9" x2="220.2" y2="115.7" stroke="#000" stroke-width="1"/>
<line x1="223.8" y1="113.9" x2="223.8" y2="115.7" stroke="#000" stroke-width="1"/>
<line x1="226.8" y1="113.9" x2="226.8" y2="115.7" stroke="#000" stroke-width="1"/>
<line x1="229.4" y1="113.9" x2="229.4" y2="115.7" stroke="#000" stroke-width="1"/>
<line x1="231.7" y1="113.9" x2="231.7" y2="115.7" stroke="#000" stroke-width="1"/>
<line x1="233.7" y1="113.9" x2="233.7" y2="116.7" stroke="#000" stroke-width="1"/>
<text x="54.8" y="127.9" text-anchor="middle" class="tl">10</text>
<text x="63.2" y="122.3" class="sup">0</text>
<text x="99.5" y="127.9" text-anchor="middle" class="tl">10</text>
<text x="107.9" y="122.3" class="sup">1</text>
<text x="144.2" y="127.9" text-anchor="middle" class="tl">10</text>
<text x="152.7" y="122.3" class="sup">2</text>
<text x="189.0" y="127.9" text-anchor="middle" class="tl">10</text>
<text x="197.4" y="122.3" class="sup">3</text>
<text x="233.7" y="127.9" text-anchor="middle" class="tl">10</text>
<text x="242.1" y="122.3" class="sup">4</text>
<text transform="translate(48.1,13.2) rotate(-90)" text-anchor="middle" class="yl">64</text>
<text transform="translate(48.1,113.9) rotate(-90)" text-anchor="middle" class="yl">0</text>
<line x1="322.8" y1="10.3" x2="322.8" y2="114.89999999999999" stroke="#000" stroke-width="1.3"/>
<line x1="322.2" y1="114.1" x2="503.8" y2="114.1" stroke="#000" stroke-width="1.4"/>
<line x1="320.3" y1="10.8" x2="322.8" y2="10.8" stroke="#000" stroke-width="1.1"/>
<line x1="320.3" y1="36.6" x2="322.8" y2="36.6" stroke="#000" stroke-width="1.1"/>
<line x1="320.3" y1="62.5" x2="322.8" y2="62.5" stroke="#000" stroke-width="1.1"/>
<line x1="320.3" y1="88.3" x2="322.8" y2="88.3" stroke="#000" stroke-width="1.1"/>
<line x1="320.3" y1="114.1" x2="322.8" y2="114.1" stroke="#000" stroke-width="1.1"/>
<line x1="322.8" y1="114.1" x2="322.8" y2="116.89999999999999" stroke="#000" stroke-width="1"/>
<line x1="336.4" y1="114.1" x2="336.4" y2="115.89999999999999" stroke="#000" stroke-width="1"/>
<line x1="344.3" y1="114.1" x2="344.3" y2="115.89999999999999" stroke="#000" stroke-width="1"/>
<line x1="350.0" y1="114.1" x2="350.0" y2="115.89999999999999" stroke="#000" stroke-width="1"/>
<line x1="354.3" y1="114.1" x2="354.3" y2="115.89999999999999" stroke="#000" stroke-width="1"/>
<line x1="357.9" y1="114.1" x2="357.9" y2="115.89999999999999" stroke="#000" stroke-width="1"/>
<line x1="360.9" y1="114.1" x2="360.9" y2="115.89999999999999" stroke="#000" stroke-width="1"/>
<line x1="363.5" y1="114.1" x2="363.5" y2="115.89999999999999" stroke="#000" stroke-width="1"/>
<line x1="365.8" y1="114.1" x2="365.8" y2="115.89999999999999" stroke="#000" stroke-width="1"/>
<line x1="367.9" y1="114.1" x2="367.9" y2="116.89999999999999" stroke="#000" stroke-width="1"/>
<line x1="381.5" y1="114.1" x2="381.5" y2="115.89999999999999" stroke="#000" stroke-width="1"/>
<line x1="389.4" y1="114.1" x2="389.4" y2="115.89999999999999" stroke="#000" stroke-width="1"/>
<line x1="395.1" y1="114.1" x2="395.1" y2="115.89999999999999" stroke="#000" stroke-width="1"/>
<line x1="399.4" y1="114.1" x2="399.4" y2="115.89999999999999" stroke="#000" stroke-width="1"/>
<line x1="403.0" y1="114.1" x2="403.0" y2="115.89999999999999" stroke="#000" stroke-width="1"/>
<line x1="406.0" y1="114.1" x2="406.0" y2="115.89999999999999" stroke="#000" stroke-width="1"/>
<line x1="408.6" y1="114.1" x2="408.6" y2="115.89999999999999" stroke="#000" stroke-width="1"/>
<line x1="410.9" y1="114.1" x2="410.9" y2="115.89999999999999" stroke="#000" stroke-width="1"/>
<line x1="413.0" y1="114.1" x2="413.0" y2="116.89999999999999" stroke="#000" stroke-width="1"/>
<line x1="426.6" y1="114.1" x2="426.6" y2="115.89999999999999" stroke="#000" stroke-width="1"/>
<line x1="434.5" y1="114.1" x2="434.5" y2="115.89999999999999" stroke="#000" stroke-width="1"/>
<line x1="440.2" y1="114.1" x2="440.2" y2="115.89999999999999" stroke="#000" stroke-width="1"/>
<line x1="444.5" y1="114.1" x2="444.5" y2="115.89999999999999" stroke="#000" stroke-width="1"/>
<line x1="448.1" y1="114.1" x2="448.1" y2="115.89999999999999" stroke="#000" stroke-width="1"/>
<line x1="451.1" y1="114.1" x2="451.1" y2="115.89999999999999" stroke="#000" stroke-width="1"/>
<line x1="453.7" y1="114.1" x2="453.7" y2="115.89999999999999" stroke="#000" stroke-width="1"/>
<line x1="456.0" y1="114.1" x2="456.0" y2="115.89999999999999" stroke="#000" stroke-width="1"/>
<line x1="458.1" y1="114.1" x2="458.1" y2="116.89999999999999" stroke="#000" stroke-width="1"/>
<line x1="471.7" y1="114.1" x2="471.7" y2="115.89999999999999" stroke="#000" stroke-width="1"/>
<line x1="479.6" y1="114.1" x2="479.6" y2="115.89999999999999" stroke="#000" stroke-width="1"/>
<line x1="485.3" y1="114.1" x2="485.3" y2="115.89999999999999" stroke="#000" stroke-width="1"/>
<line x1="489.6" y1="114.1" x2="489.6" y2="115.89999999999999" stroke="#000" stroke-width="1"/>
<line x1="493.2" y1="114.1" x2="493.2" y2="115.89999999999999" stroke="#000" stroke-width="1"/>
<line x1="496.2" y1="114.1" x2="496.2" y2="115.89999999999999" stroke="#000" stroke-width="1"/>
<line x1="498.8" y1="114.1" x2="498.8" y2="115.89999999999999" stroke="#000" stroke-width="1"/>
<line x1="501.1" y1="114.1" x2="501.1" y2="115.89999999999999" stroke="#000" stroke-width="1"/>
<line x1="503.2" y1="114.1" x2="503.2" y2="116.89999999999999" stroke="#000" stroke-width="1"/>
<text x="322.8" y="128.1" text-anchor="middle" class="tl">10</text>
<text x="331.2" y="122.5" class="sup">0</text>
<text x="367.9" y="128.1" text-anchor="middle" class="tl">10</text>
<text x="376.3" y="122.5" class="sup">1</text>
<text x="413.0" y="128.1" text-anchor="middle" class="tl">10</text>
<text x="421.4" y="122.5" class="sup">2</text>
<text x="458.1" y="128.1" text-anchor="middle" class="tl">10</text>
<text x="466.5" y="122.5" class="sup">3</text>
<text x="503.2" y="128.1" text-anchor="middle" class="tl">10</text>
<text x="511.6" y="122.5" class="sup">4</text>
<text transform="translate(316.1,10.8) rotate(-90)" text-anchor="middle" class="yl">64</text>
<text transform="translate(316.1,114.1) rotate(-90)" text-anchor="middle" class="yl">0</text>
<line x1="58.3" y1="176.5" x2="58.3" y2="273.40000000000003" stroke="#000" stroke-width="1.3"/>
<line x1="57.699999999999996" y1="272.6" x2="231.6" y2="272.6" stroke="#000" stroke-width="1.4"/>
<line x1="55.8" y1="177.0" x2="58.3" y2="177.0" stroke="#000" stroke-width="1.1"/>
<line x1="55.8" y1="200.9" x2="58.3" y2="200.9" stroke="#000" stroke-width="1.1"/>
<line x1="55.8" y1="224.8" x2="58.3" y2="224.8" stroke="#000" stroke-width="1.1"/>
<line x1="55.8" y1="248.7" x2="58.3" y2="248.7" stroke="#000" stroke-width="1.1"/>
<line x1="55.8" y1="272.6" x2="58.3" y2="272.6" stroke="#000" stroke-width="1.1"/>
<line x1="58.3" y1="272.6" x2="58.3" y2="275.40000000000003" stroke="#000" stroke-width="1"/>
<line x1="71.3" y1="272.6" x2="71.3" y2="274.40000000000003" stroke="#000" stroke-width="1"/>
<line x1="78.9" y1="272.6" x2="78.9" y2="274.40000000000003" stroke="#000" stroke-width="1"/>
<line x1="84.3" y1="272.6" x2="84.3" y2="274.40000000000003" stroke="#000" stroke-width="1"/>
<line x1="88.5" y1="272.6" x2="88.5" y2="274.40000000000003" stroke="#000" stroke-width="1"/>
<line x1="91.9" y1="272.6" x2="91.9" y2="274.40000000000003" stroke="#000" stroke-width="1"/>
<line x1="94.8" y1="272.6" x2="94.8" y2="274.40000000000003" stroke="#000" stroke-width="1"/>
<line x1="97.3" y1="272.6" x2="97.3" y2="274.40000000000003" stroke="#000" stroke-width="1"/>
<line x1="99.5" y1="272.6" x2="99.5" y2="274.40000000000003" stroke="#000" stroke-width="1"/>
<line x1="101.5" y1="272.6" x2="101.5" y2="275.40000000000003" stroke="#000" stroke-width="1"/>
<line x1="114.5" y1="272.6" x2="114.5" y2="274.40000000000003" stroke="#000" stroke-width="1"/>
<line x1="122.1" y1="272.6" x2="122.1" y2="274.40000000000003" stroke="#000" stroke-width="1"/>
<line x1="127.5" y1="272.6" x2="127.5" y2="274.40000000000003" stroke="#000" stroke-width="1"/>
<line x1="131.7" y1="272.6" x2="131.7" y2="274.40000000000003" stroke="#000" stroke-width="1"/>
<line x1="135.1" y1="272.6" x2="135.1" y2="274.40000000000003" stroke="#000" stroke-width="1"/>
<line x1="138.0" y1="272.6" x2="138.0" y2="274.40000000000003" stroke="#000" stroke-width="1"/>
<line x1="140.5" y1="272.6" x2="140.5" y2="274.40000000000003" stroke="#000" stroke-width="1"/>
<line x1="142.7" y1="272.6" x2="142.7" y2="274.40000000000003" stroke="#000" stroke-width="1"/>
<line x1="144.6" y1="272.6" x2="144.6" y2="275.40000000000003" stroke="#000" stroke-width="1"/>
<line x1="157.6" y1="272.6" x2="157.6" y2="274.40000000000003" stroke="#000" stroke-width="1"/>
<line x1="165.2" y1="272.6" x2="165.2" y2="274.40000000000003" stroke="#000" stroke-width="1"/>
<line x1="170.6" y1="272.6" x2="170.6" y2="274.40000000000003" stroke="#000" stroke-width="1"/>
<line x1="174.8" y1="272.6" x2="174.8" y2="274.40000000000003" stroke="#000" stroke-width="1"/>
<line x1="178.2" y1="272.6" x2="178.2" y2="274.40000000000003" stroke="#000" stroke-width="1"/>
<line x1="181.1" y1="272.6" x2="181.1" y2="274.40000000000003" stroke="#000" stroke-width="1"/>
<line x1="183.6" y1="272.6" x2="183.6" y2="274.40000000000003" stroke="#000" stroke-width="1"/>
<line x1="185.8" y1="272.6" x2="185.8" y2="274.40000000000003" stroke="#000" stroke-width="1"/>
<line x1="187.8" y1="272.6" x2="187.8" y2="275.40000000000003" stroke="#000" stroke-width="1"/>
<line x1="200.8" y1="272.6" x2="200.8" y2="274.40000000000003" stroke="#000" stroke-width="1"/>
<line x1="208.4" y1="272.6" x2="208.4" y2="274.40000000000003" stroke="#000" stroke-width="1"/>
<line x1="213.8" y1="272.6" x2="213.8" y2="274.40000000000003" stroke="#000" stroke-width="1"/>
<line x1="218.0" y1="272.6" x2="218.0" y2="274.40000000000003" stroke="#000" stroke-width="1"/>
<line x1="221.4" y1="272.6" x2="221.4" y2="274.40000000000003" stroke="#000" stroke-width="1"/>
<line x1="224.3" y1="272.6" x2="224.3" y2="274.40000000000003" stroke="#000" stroke-width="1"/>
<line x1="226.8" y1="272.6" x2="226.8" y2="274.40000000000003" stroke="#000" stroke-width="1"/>
<line x1="229.0" y1="272.6" x2="229.0" y2="274.40000000000003" stroke="#000" stroke-width="1"/>
<line x1="231.0" y1="272.6" x2="231.0" y2="275.40000000000003" stroke="#000" stroke-width="1"/>
<text x="58.3" y="286.6" text-anchor="middle" class="tl">10</text>
<text x="66.7" y="281.0" class="sup">0</text>
<text x="101.5" y="286.6" text-anchor="middle" class="tl">10</text>
<text x="109.9" y="281.0" class="sup">1</text>
<text x="144.6" y="286.6" text-anchor="middle" class="tl">10</text>
<text x="153.0" y="281.0" class="sup">2</text>
<text x="187.8" y="286.6" text-anchor="middle" class="tl">10</text>
<text x="196.2" y="281.0" class="sup">3</text>
<text x="231.0" y="286.6" text-anchor="middle" class="tl">10</text>
<text x="239.4" y="281.0" class="sup">4</text>
<text transform="translate(52.3,177.0) rotate(-90)" text-anchor="middle" class="yl">64</text>
<text transform="translate(52.3,272.6) rotate(-90)" text-anchor="middle" class="yl">0</text>
<line x1="326.1" y1="177.3" x2="326.1" y2="273.1" stroke="#000" stroke-width="1.3"/>
<line x1="325.5" y1="272.3" x2="508.6" y2="272.3" stroke="#000" stroke-width="1.4"/>
<line x1="323.6" y1="177.8" x2="326.1" y2="177.8" stroke="#000" stroke-width="1.1"/>
<line x1="323.6" y1="201.4" x2="326.1" y2="201.4" stroke="#000" stroke-width="1.1"/>
<line x1="323.6" y1="225.1" x2="326.1" y2="225.1" stroke="#000" stroke-width="1.1"/>
<line x1="323.6" y1="248.7" x2="326.1" y2="248.7" stroke="#000" stroke-width="1.1"/>
<line x1="323.6" y1="272.3" x2="326.1" y2="272.3" stroke="#000" stroke-width="1.1"/>
<line x1="326.1" y1="272.3" x2="326.1" y2="275.1" stroke="#000" stroke-width="1"/>
<line x1="339.8" y1="272.3" x2="339.8" y2="274.1" stroke="#000" stroke-width="1"/>
<line x1="347.8" y1="272.3" x2="347.8" y2="274.1" stroke="#000" stroke-width="1"/>
<line x1="353.5" y1="272.3" x2="353.5" y2="274.1" stroke="#000" stroke-width="1"/>
<line x1="357.9" y1="272.3" x2="357.9" y2="274.1" stroke="#000" stroke-width="1"/>
<line x1="361.5" y1="272.3" x2="361.5" y2="274.1" stroke="#000" stroke-width="1"/>
<line x1="364.5" y1="272.3" x2="364.5" y2="274.1" stroke="#000" stroke-width="1"/>
<line x1="367.2" y1="272.3" x2="367.2" y2="274.1" stroke="#000" stroke-width="1"/>
<line x1="369.5" y1="272.3" x2="369.5" y2="274.1" stroke="#000" stroke-width="1"/>
<line x1="371.6" y1="272.3" x2="371.6" y2="275.1" stroke="#000" stroke-width="1"/>
<line x1="385.3" y1="272.3" x2="385.3" y2="274.1" stroke="#000" stroke-width="1"/>
<line x1="393.3" y1="272.3" x2="393.3" y2="274.1" stroke="#000" stroke-width="1"/>
<line x1="399.0" y1="272.3" x2="399.0" y2="274.1" stroke="#000" stroke-width="1"/>
<line x1="403.4" y1="272.3" x2="403.4" y2="274.1" stroke="#000" stroke-width="1"/>
<line x1="407.0" y1="272.3" x2="407.0" y2="274.1" stroke="#000" stroke-width="1"/>
<line x1="410.0" y1="272.3" x2="410.0" y2="274.1" stroke="#000" stroke-width="1"/>
<line x1="412.6" y1="272.3" x2="412.6" y2="274.1" stroke="#000" stroke-width="1"/>
<line x1="415.0" y1="272.3" x2="415.0" y2="274.1" stroke="#000" stroke-width="1"/>
<line x1="417.1" y1="272.3" x2="417.1" y2="275.1" stroke="#000" stroke-width="1"/>
<line x1="430.7" y1="272.3" x2="430.7" y2="274.1" stroke="#000" stroke-width="1"/>
<line x1="438.7" y1="272.3" x2="438.7" y2="274.1" stroke="#000" stroke-width="1"/>
<line x1="444.4" y1="272.3" x2="444.4" y2="274.1" stroke="#000" stroke-width="1"/>
<line x1="448.8" y1="272.3" x2="448.8" y2="274.1" stroke="#000" stroke-width="1"/>
<line x1="452.4" y1="272.3" x2="452.4" y2="274.1" stroke="#000" stroke-width="1"/>
<line x1="455.5" y1="272.3" x2="455.5" y2="274.1" stroke="#000" stroke-width="1"/>
<line x1="458.1" y1="272.3" x2="458.1" y2="274.1" stroke="#000" stroke-width="1"/>
<line x1="460.4" y1="272.3" x2="460.4" y2="274.1" stroke="#000" stroke-width="1"/>
<line x1="462.5" y1="272.3" x2="462.5" y2="275.1" stroke="#000" stroke-width="1"/>
<line x1="476.2" y1="272.3" x2="476.2" y2="274.1" stroke="#000" stroke-width="1"/>
<line x1="484.2" y1="272.3" x2="484.2" y2="274.1" stroke="#000" stroke-width="1"/>
<line x1="489.9" y1="272.3" x2="489.9" y2="274.1" stroke="#000" stroke-width="1"/>
<line x1="494.3" y1="272.3" x2="494.3" y2="274.1" stroke="#000" stroke-width="1"/>
<line x1="497.9" y1="272.3" x2="497.9" y2="274.1" stroke="#000" stroke-width="1"/>
<line x1="501.0" y1="272.3" x2="501.0" y2="274.1" stroke="#000" stroke-width="1"/>
<line x1="503.6" y1="272.3" x2="503.6" y2="274.1" stroke="#000" stroke-width="1"/>
<line x1="505.9" y1="272.3" x2="505.9" y2="274.1" stroke="#000" stroke-width="1"/>
<line x1="508.0" y1="272.3" x2="508.0" y2="275.1" stroke="#000" stroke-width="1"/>
<text x="326.1" y="286.3" text-anchor="middle" class="tl">10</text>
<text x="334.5" y="280.7" class="sup">0</text>
<text x="371.6" y="286.3" text-anchor="middle" class="tl">10</text>
<text x="380.0" y="280.7" class="sup">1</text>
<text x="417.1" y="286.3" text-anchor="middle" class="tl">10</text>
<text x="425.4" y="280.7" class="sup">2</text>
<text x="462.5" y="286.3" text-anchor="middle" class="tl">10</text>
<text x="470.9" y="280.7" class="sup">3</text>
<text x="508.0" y="286.3" text-anchor="middle" class="tl">10</text>
<text x="516.4" y="280.7" class="sup">4</text>
<text transform="translate(320.1,177.8) rotate(-90)" text-anchor="middle" class="yl">64</text>
<text transform="translate(320.1,272.3) rotate(-90)" text-anchor="middle" class="yl">0</text>
<line x1="87.4" y1="63.3" x2="210.8" y2="63.3" stroke="#000" stroke-width="1.35"/>
<line x1="87.4" y1="59.2" x2="87.4" y2="66.0" stroke="#000" stroke-width="1.6"/>
<line x1="210.8" y1="59.2" x2="210.8" y2="66.0" stroke="#000" stroke-width="1.8"/>
<line x1="355.5" y1="62.8" x2="479.3" y2="62.8" stroke="#000" stroke-width="1.35"/>
<line x1="355.5" y1="58.8" x2="355.5" y2="65.6" stroke="#000" stroke-width="1.6"/>
<line x1="479.3" y1="58.8" x2="479.3" y2="65.6" stroke="#000" stroke-width="1.8"/>
<line x1="88.7" y1="225.3" x2="208.8" y2="225.3" stroke="#000" stroke-width="1.35"/>
<line x1="88.7" y1="221.5" x2="88.7" y2="228.5" stroke="#000" stroke-width="1.6"/>
<line x1="208.8" y1="221.5" x2="208.8" y2="228.5" stroke="#000" stroke-width="1.8"/>
<line x1="357.9" y1="224.9" x2="484.8" y2="224.9" stroke="#000" stroke-width="1.35"/>
<line x1="357.9" y1="221.5" x2="357.9" y2="228.0" stroke="#000" stroke-width="1.6"/>
<line x1="484.8" y1="221.5" x2="484.8" y2="228.0" stroke="#000" stroke-width="1.8"/>
<line x1="187.2" y1="219.3" x2="199" y2="219.3" stroke="#999" stroke-width="0.8" stroke-dasharray="1.5,2.2"/>
<text y="15.0"><tspan x="122.3" class="bt">5 </tspan><tspan x="139.0" class="mu">&#956;</tspan><tspan x="150.0" class="bt">M</tspan></text>
<text y="14.6"><tspan x="388.6" class="bt">10 </tspan><tspan x="416.0" class="mu">&#956;</tspan><tspan x="427.6" class="bt">M</tspan></text>
<text y="178.9"><tspan x="120.7" class="bt">20 </tspan><tspan x="149.8" class="mu">&#956;</tspan><tspan x="160.7" class="bt">M</tspan></text>
<text y="177.8"><tspan x="388.6" class="bt">40 </tspan><tspan x="417.6" class="mu">&#956;</tspan><tspan x="429.2" class="bt">M</tspan></text>
<text x="130.2" y="56.6" class="pc">7.6%</text>
<text x="397.4" y="56.4" class="pc">15.1%</text>
<text x="129.2" y="219.6" class="pc">47.2%</text>
<text x="398.2" y="220.5" class="pc">86.1%</text>
<text x="175.2" y="317.4" class="ax" textLength="213.5" lengthAdjust="spacingAndGlyphs">Fluorescence Intensity</text>
<text transform="translate(15.8,192.8) rotate(-90) scale(1,0.88)" class="ax">Cell <tspan dx="-2">Number</tspan></text>
</svg>
</body></html>
